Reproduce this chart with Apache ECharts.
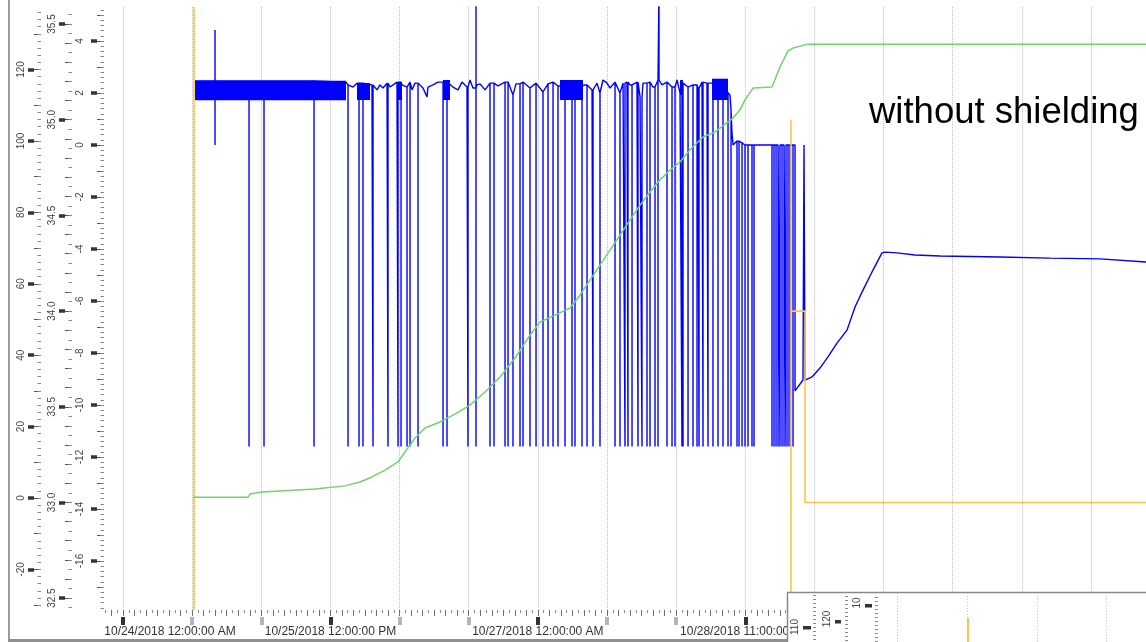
<!DOCTYPE html>
<html><head><meta charset="utf-8">
<script src="https://cdn.jsdelivr.net/npm/echarts@6/dist/echarts.min.js"></script>
<style>html,body{margin:0;padding:0;background:#fff}#c{width:1146px;height:642px}</style>
</head><body><div id="c"></div>
<script>
// ---------------- DATA (x = elapsed hours since 10/24/2018 00:00) ----------------
const xLabelHours = [0, 36, 72, 108];
const xLabelTexts = ['10/24/2018 12:00:00 AM', '10/25/2018 12:00:00 PM', '10/27/2018 12:00:00 AM', '10/28/2018 11:00:00 AM'];

const axis1Labels = [-20, 0, 20, 40, 60, 80, 100, 120];
const axis2Labels = [32.5, 33.0, 33.5, 34.0, 34.5, 35.0, 35.5];
const axis3Labels = [-16, -14, -12, -10, -8, -6, -4, -2, 0, 2, 4];

// green trace (left axis 0..120)
const greenH = [12.15, 21.70, 22.05, 24.12, 33.32, 38.53, 41.13, 43.21, 45.47, 47.72, 48.94, 50.68, 52.41, 55.02, 57.62, 60.22, 62.83, 65.43, 68.03, 70.63, 72.37, 74.97, 77.58, 79.31, 81.05, 82.78, 84.52, 86.25, 87.99, 89.73, 91.46, 93.20, 94.93, 96.67, 98.41, 100.66, 102.74, 104.48, 105.87, 107.08, 107.95, 109.34, 112.63, 114.02, 115.41, 116.28, 118.88, 177.54];
const greenV = [0.2, 0.2, 1.1, 1.7, 2.5, 3.4, 4.5, 5.9, 7.8, 10.1, 12.9, 16.8, 19.6, 21.3, 23.5, 26.0, 29.7, 33.9, 39.2, 45.6, 49.3, 51.2, 53.2, 56.8, 61.0, 65.2, 69.4, 73.6, 77.8, 82.0, 85.7, 89.1, 91.8, 94.1, 97.5, 101.1, 102.5, 104.7, 106.4, 108.7, 111.5, 114.8, 115.1, 120.7, 125.2, 126.0, 127.1, 127.1];

// orange trace (axis 32.5..35.5)
const orangeH = [115.93, 115.93, 115.93, 118.36, 118.36, 177.54];
const orangeV = [35.0, 32.0, 34.0, 34.0, 33.0, 33.0];
const cursorH = 12.24;

// blue trace (axis -16..4): level path
const blueH = [12.50, 38.70, 39.05, 39.92, 40.61, 43.21, 44.08, 44.60, 45.12, 45.82, 46.34, 47.55, 48.42, 49.29, 49.81, 50.16, 50.68, 51.54, 52.06, 52.76, 52.93, 53.80, 54.67, 56.40, 57.27, 58.14, 58.83, 59.70, 60.22, 60.74, 61.44, 61.96, 62.83, 63.69, 65.08, 66.30, 67.68, 68.20, 69.42, 70.63, 71.68, 72.89, 73.76, 74.63, 75.49, 80.18, 80.70, 81.40, 82.26, 82.78, 83.30, 84.00, 84.52, 85.39, 86.25, 86.78, 87.47, 87.99, 89.20, 89.73, 90.25, 91.11, 91.98, 92.85, 93.54, 94.41, 95.28, 96.15, 96.67, 97.19, 98.06, 98.92, 99.79, 100.49, 101.35, 105.00, 105.34, 105.52, 105.69, 105.87, 106.56, 107.08, 107.95, 116.63, 116.63, 118.01, 118.19, 118.36, 119.58, 120.96, 122.35, 123.91, 125.65, 127.04, 128.42, 130.16, 131.72, 132.25, 134.33, 137.45, 141.79, 152.20, 160.88, 169.56, 177.54];
const blueV = [2.46, 2.42, 2.31, 2.23, 2.38, 2.31, 2.12, 2.31, 2.19, 2.38, 2.23, 2.42, 2.31, 2.23, 2.42, 2.12, 2.38, 2.38, 2.19, 1.85, 2.23, 2.31, 2.42, 2.38, 2.23, 2.12, 2.42, 2.23, 2.50, 2.19, 2.31, 2.35, 2.12, 2.38, 2.27, 2.42, 1.92, 2.35, 2.42, 2.19, 2.38, 2.04, 2.35, 2.42, 2.27, 2.31, 2.31, 2.12, 2.38, 2.00, 2.50, 2.38, 2.19, 2.42, 2.00, 2.38, 2.42, 2.31, 2.42, 1.85, 2.38, 2.42, 2.23, 2.50, 2.31, 2.42, 2.23, 2.50, 2.00, 2.38, 2.23, 2.31, 2.19, 2.42, 2.38, 2.00, 1.92, 1.35, 0.46, 0, 0.15, 0.08, 0, 0, -9.46, -9.04, 0, -9.04, -8.92, -8.58, -8.15, -7.62, -7.12, -6.23, -5.58, -4.81, -4.15, -4.12, -4.15, -4.23, -4.27, -4.31, -4.35, -4.38, -4.50];
// blue drop-outs down to the floor value
const blueDropH = [21.87, 24.47, 33.15, 39.05, 40.96, 41.65, 43.39, 45.99, 47.73, 48.25, 49.29, 49.81, 51.20, 55.54, 56.23, 59.87, 61.26, 63.69, 64.39, 66.30, 66.82, 67.68, 68.90, 69.42, 70.63, 71.68, 72.89, 73.76, 74.63, 75.49, 76.71, 77.92, 78.44, 79.66, 80.53, 81.57, 82.78, 85.39, 86.25, 87.12, 87.64, 88.34, 89.38, 90.07, 90.94, 91.46, 92.33, 92.85, 94.41, 95.28, 95.80, 97.01, 97.19, 98.06, 98.92, 99.62, 99.97, 100.66, 101.53, 102.39, 103.26, 104.13, 105.00, 105.52, 106.56, 106.91, 107.43, 107.95, 108.47, 109.16, 109.51, 112.63, 112.98, 113.33, 113.68, 114.02, 114.37, 114.72, 115.06, 115.41, 115.76, 116.28];
const blueFloor = -11.6;
// isolated spikes
const blueSpikeH = [15.97, 15.97, 61.26, 93.02];
const blueSpikeV = [4.42, 0, 6.0, 6.0];
// dense noise bands (start h, end h, top, bottom)
const bandH0 = [12.50, 40.61, 47.55, 55.54, 75.84, 96.67, 102.22];
const bandH1 = [38.70, 42.87, 48.42, 56.75, 79.83, 97.19, 105.00];
const bandTop = [2.47, 2.38, 2.42, 2.50, 2.50, 2.50, 2.55];
const bandBottom = [1.72, 1.73, 1.73, 1.73, 1.73, 1.92, 1.73];

const annotation = 'without shielding';

// ---------------- helpers ----------------
const FONT = '"Liberation Sans", Arial, Helvetica, sans-serif';
function range(a, b, step) {
  const out = []; const n = Math.round((b - a) / step);
  for (let i = 0; i <= n; i++) out.push(+(a + i * step).toFixed(4));
  return out;
}
function buildBlue() {
  const ev = [];
  blueH.forEach((h, i) => ev.push({ h, t: 0, v: blueV[i] }));
  blueDropH.forEach(h => ev.push({ h, t: 1, v: blueFloor }));
  blueSpikeH.forEach((h, i) => ev.push({ h, t: 1, v: blueSpikeV[i] }));
  ev.sort((a, b) => (a.h - b.h) || (a.t - b.t));
  const out = []; let last = blueV[0];
  ev.forEach(e => {
    if (e.t === 0) { last = e.v; out.push([e.h, e.v]); }
    else { out.push([e.h, last], [e.h, e.v], [e.h, last]); }
  });
  return out;
}

const X_MIN = -3.30, X_MAX = 177.54;
const Y1 = [-31.36, 137.5], Y2 = [32.438, 35.589], Y3 = [-17.885, 5.308];

const xBase = { type: 'value', min: X_MIN, max: X_MAX, gridIndex: 0, position: 'bottom',
  axisLine: { show: false, onZero: false }, splitLine: { show: false }, axisLabel: { show: false }, axisTick: { show: false } };
const xAxes = [
  Object.assign({}, xBase, {
    axisTick: { show: false, customValues: range(0, 168, 12) },
    splitLine: { show: true, lineStyle: { type: 'dotted', color: '#c2c2c2', width: 1 } },
    axisLabel: {
      show: true, customValues: xLabelHours, margin: 16, hideOverlap: false,
      formatter: function (v) {
        const i = xLabelHours.findIndex(h => Math.abs(h - v) < 1e-6);
        if (i < 0) return '';
        return (i === 0 ? '{f|' : '{n|') + xLabelTexts[i] + '}';
      },
      rich: {
        f: { padding: [0, 0, 0, 94], fontSize: 12, color: '#333', fontFamily: FONT },
        n: { fontSize: 12, color: '#333', fontFamily: FONT }
      }
    }
  }),
  Object.assign({}, xBase, { axisTick: { show: true, customValues: range(-3, 177, 1), length: 3, lineStyle: { color: '#8c8c8c' } } }),
  Object.assign({}, xBase, { axisTick: { show: true, customValues: range(-2, 176, 2), length: 6, lineStyle: { color: '#707070' } } }),
  Object.assign({}, xBase, { offset: 7, axisTick: { show: true, customValues: range(0, 168, 12), length: 8, lineStyle: { color: '#b4b4b4', width: 4 } } }),
  Object.assign({}, xBase, { offset: 7, axisTick: { show: true, customValues: xLabelHours, length: 8, lineStyle: { color: '#333', width: 4 } } })
];

function yAxesFor(ext, offset, labels, mid, minor, fmt, margin) {
  const base = { type: 'value', min: ext[0], max: ext[1], gridIndex: 0, position: 'left',
    axisLine: { show: false, onZero: false }, splitLine: { show: false } };
  return [
    Object.assign({}, base, { offset,
      axisTick: { show: true, customValues: mid, length: 7, lineStyle: { color: '#555' } },
      axisLabel: { show: true, customValues: labels, rotate: 90, margin, formatter: fmt, color: '#444', fontSize: 10, fontFamily: FONT } }),
    Object.assign({}, base, { offset,
      axisTick: { show: true, customValues: minor, length: 3.5, lineStyle: { color: '#888' } }, axisLabel: { show: false } }),
    Object.assign({}, base, { offset: offset + 7,
      axisTick: { show: true, customValues: labels, length: 6, lineStyle: { color: '#333', width: 3.5 } }, axisLabel: { show: false } })
  ];
}
const yAxes = [].concat(
  yAxesFor(Y1, 63, axis1Labels, range(-30, 130, 10), range(-30, 136, 2), v => String(Math.round(v)), 14.3),
  yAxesFor(Y2, 32, axis2Labels, range(32.5, 35.5, 0.1), range(32.45, 35.55, 0.05), v => v.toFixed(1), 15),
  yAxesFor(Y3, 0, axis3Labels, range(-17, 5, 1), range(-17.8, 5.2, 0.2), v => String(Math.round(v)), 18.5)
);

// ---------------- decorations (frame + pasted inset at bottom right) ----------------
const g = [];
g.push({ type: 'line', z: 100, shape: { x1: 9, y1: 0, x2: 9, y2: 641 }, style: { stroke: '#9b9b9b', lineWidth: 2 } });
g.push({ type: 'line', z: 100, shape: { x1: 8, y1: 640.5, x2: 787, y2: 640.5 }, style: { stroke: '#8f8f8f', lineWidth: 3 } });
g.push({ type: 'rect', z: 100, shape: { x: 787, y: 592, width: 359, height: 50 }, style: { fill: '#fff' } });
g.push({ type: 'line', z: 101, shape: { x1: 787, y1: 592.5, x2: 1146, y2: 592.5 }, style: { stroke: '#8a8a8a', lineWidth: 1.5 } });
g.push({ type: 'line', z: 101, shape: { x1: 787.5, y1: 592, x2: 787.5, y2: 642 }, style: { stroke: '#8a8a8a', lineWidth: 1.5 } });
[897, 967, 1037, 1106].forEach(x => g.push({ type: 'line', z: 101, shape: { x1: x + 0.5, y1: 593, x2: x + 0.5, y2: 642 }, style: { stroke: '#c4c4c4', lineWidth: 1, lineDash: [1, 2] } }));
g.push({ type: 'rect', z: 102, shape: { x: 967, y: 618, width: 2, height: 24 }, style: { fill: '#ffc53d' } });
[[813, 0], [845, 1], [875, 2]].forEach(([x, k]) => {
  for (let y = 595 + k; y < 642; y += 4) g.push({ type: 'line', z: 101, shape: { x1: x, y1: y + 0.5, x2: x + 3, y2: y + 0.5 }, style: { stroke: '#888', lineWidth: 1 } });
});
[['110', 795, 627, 803, 626, 8], ['120', 827, 619, 835, 620, 6], ['10', 857, 603, 865, 604, 7]].forEach(([t, tx, ty, bx, by, bw]) => {
  g.push({ type: 'text', z: 102, x: tx, y: ty, rotation: Math.PI / 2,
    style: { text: t, fill: '#444', font: '10px ' + FONT, align: 'center', verticalAlign: 'middle', textAlign: 'center', textVerticalAlign: 'middle' } });
  g.push({ type: 'rect', z: 102, shape: { x: bx, y: by, width: bw, height: 3.5 }, style: { fill: '#333' } });
});
g.push({ type: 'text', z: 103, x: 869, y: 113,
  style: { text: annotation, fill: '#000', font: '36.5px ' + FONT, align: 'left', verticalAlign: 'middle', textAlign: 'left', textVerticalAlign: 'middle' } });

// ---------------- chart ----------------
const chart = echarts.init(document.getElementById('c'), null, { renderer: 'canvas' });
chart.setOption({
  animation: false,
  backgroundColor: '#fff',
  grid: { left: 104, right: 0, top: 7, bottom: 32, containLabel: false },
  xAxis: xAxes,
  yAxis: yAxes,
  graphic: g,
  series: [
    {
      type: 'custom', name: 'band', xAxisIndex: 0, yAxisIndex: 6, z: 3,
      encode: { x: [0, 1], y: [2, 3] },
      data: bandH0.map((h, i) => [h, bandH1[i], bandTop[i], bandBottom[i]]),
      renderItem: function (params, api) {
        const p1 = api.coord([api.value(0), api.value(2)]);
        const p2 = api.coord([api.value(1), api.value(3)]);
        return { type: 'rect', shape: { x: p1[0], y: p1[1], width: p2[0] - p1[0], height: p2[1] - p1[1] }, style: { fill: '#0000ff' } };
      }
    },
    {
      type: 'line', name: 'blue', xAxisIndex: 0, yAxisIndex: 6, z: 4,
      data: buildBlue(), showSymbol: false, symbol: 'none', clip: true,
      lineStyle: { color: '#0000ff', width: 1.4 }
    },
    {
      type: 'line', name: 'orange', xAxisIndex: 0, yAxisIndex: 3, z: 5,
      data: orangeH.map((h, i) => [h, orangeV[i]]), showSymbol: false, symbol: 'none', clip: true,
      lineStyle: { color: '#ffc53d', width: 1.6 },
      markLine: { silent: true, symbol: 'none', label: { show: false },
        lineStyle: { color: '#ffc53d', width: 1.6, type: 'solid' }, data: [{ xAxis: cursorH }] }
    },
    {
      type: 'line', name: 'green', xAxisIndex: 0, yAxisIndex: 0, z: 6,
      data: greenH.map((h, i) => [h, greenV[i]]), showSymbol: false, symbol: 'none', clip: true,
      lineStyle: { color: '#72d36a', width: 1.5 }
    }
  ]
});
</script>
</body></html>
